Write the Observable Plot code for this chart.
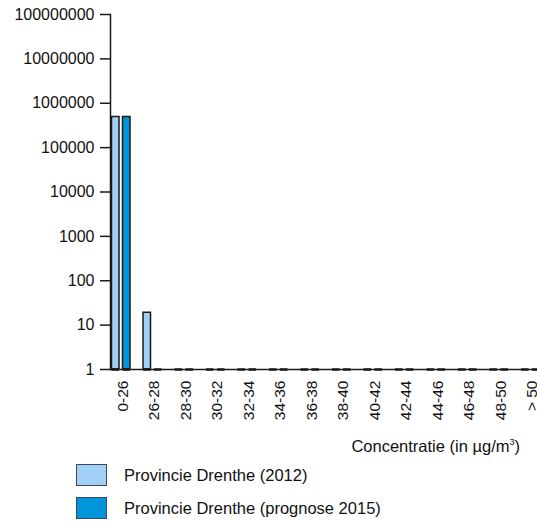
<!DOCTYPE html>
<html>
<head>
<meta charset="utf-8">
<script src="https://cdn.jsdelivr.net/npm/d3@7"></script>
<script src="https://cdn.jsdelivr.net/npm/@observablehq/plot@0.6"></script>
<style>
  html, body { margin: 0; padding: 0; overflow: hidden; background: #fff; }
  body { width: 537px; height: 522px; position: relative; font-family: "Liberation Sans", Arial, sans-serif; color: #111; }
  #chart { position: absolute; left: 0; top: 0; }
  .xtitle { position: absolute; right: 17px; top: 437px; font-size: 16.5px; white-space: nowrap; }
  .xtitle sup { font-size: 9px; vertical-align: 7px; line-height: 0; }
  .leg { position: absolute; left: 76px; font-size: 16.5px; display: flex; align-items: center; white-space: nowrap; }
  .leg .sw { width: 29px; height: 20px; border: 1px solid #3a4a5a; margin-right: 17px; box-sizing: content-box; }
</style>
</head>
<body>
<div id="chart"></div>
<div class="xtitle">Concentratie (in µg/m<sup>3</sup>)</div>
<div class="leg" style="top:464px"><div class="sw" style="background:#a2d0f4"></div><span>Provincie Drenthe (2012)</span></div>
<div class="leg" style="top:497px"><div class="sw" style="background:#0095db"></div><span>Provincie Drenthe (prognose 2015)</span></div>
<script>
const categories = ["0-26","26-28","28-30","30-32","32-34","34-36","36-38","38-40","40-42","42-44","44-46","46-48","48-50","> 50"];
const values2012 = [490000, 19, 1, 1, 1, 1, 1, 1, 1, 1, 1, 1, 1, 1];
const values2015 = [490000, 1, 1, 1, 1, 1, 1, 1, 1, 1, 1, 1, 1, 1];
const yTicks = [1, 10, 100, 1000, 10000, 100000, 1000000, 10000000, 100000000];

const d12 = categories.map((c, i) => ({cat: c, value: values2012[i]}));
const d15 = categories.map((c, i) => ({cat: c, value: values2015[i]}));

const light = "#a2d0f4", dark = "#0095db", ink = "#1a1a1a";

const plot = Plot.plot({
  width: 537,
  height: 460,
  marginTop: 14,
  marginBottom: 91,
  marginLeft: 110,
  marginRight: 0,
  style: {fontFamily: "Liberation Sans, Arial, sans-serif", color: "#111", background: "transparent", overflow: "visible"},
  x: {type: "band", domain: categories, range: [105.25, 546.25], padding: 0, round: false},
  y: {type: "log", domain: [1, 1e8], ticks: yTicks},
  marks: [
    Plot.barY(d12, {x: "cat", y1: 1, y2: "value", fill: light, stroke: ink, strokeWidth: 1.5, insetLeft: 6.25, insetRight: 17.75}),
    Plot.barY(d15, {x: "cat", y1: 1, y2: "value", fill: dark, stroke: ink, strokeWidth: 1.5, insetLeft: 17.25, insetRight: 6.75}),
    Plot.tickY(d12, {x: "cat", y: 1, stroke: ink, strokeWidth: 2.5, insetLeft: 6.25, insetRight: 17.75}),
    Plot.tickY(d15, {x: "cat", y: 1, stroke: ink, strokeWidth: 2.5, insetLeft: 17.25, insetRight: 6.75}),
    Plot.ruleY([1], {stroke: ink, strokeWidth: 1.5}),
    Plot.frame({anchor: "left", stroke: ink, strokeWidth: 1.5}),
    Plot.axisY({ticks: yTicks, tickFormat: d3.format("d"), tickSize: 10, tickPadding: 6, fontSize: 16, label: null, stroke: ink, strokeWidth: 1.5}),
    Plot.axisX({tickSize: 0, tickRotate: -90, tickPadding: 11, fontSize: 15.5, dx: 1.5, label: null})
  ]
});
document.getElementById("chart").appendChild(plot);
</script>
</body>
</html>
